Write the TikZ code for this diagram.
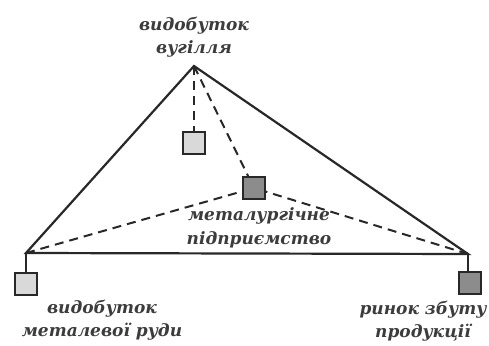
\documentclass[tikz,border=0pt]{standalone}
\usepackage{fontspec}
\setmainfont{DejaVu Serif}
\usetikzlibrary{positioning}
\definecolor{lineGray}{RGB}{40,40,40}
\definecolor{textGray}{RGB}{60,60,60}
\colorlet{PaleBox}{black!15}
\colorlet{DarkBox}{black!45}

\begin{document}
\begin{tikzpicture}[x=1pt,y=-1pt,
      site/.style={draw=lineGray,line width=1.8pt,minimum size=22pt,inner sep=0pt},
      lbl/.style={text=textGray,font=\bfseries\itshape\fontsize{17}{23.5}\selectfont,align=center},
      link/.style={line width=2.2pt,lineGray},
      route/.style={line width=2pt,lineGray,dash pattern=on 9pt off 6pt}
    ]
    \useasboundingbox (0,0) rectangle (489,345);
    % corners of the triangle
    \coordinate (coal) at (194,66);
    \coordinate (ore) at (26,253);
    \coordinate (market) at (468,254);
    % sites
    \node[site,fill=PaleBox] (sq1) at (194,143) {};
    \node[site,fill=DarkBox] (plant) at (254,188) {};
    \node[site,fill=PaleBox] (oreSq) at (26,284) {};
    \node[site,fill=DarkBox] (marketSq) at (470,283) {};
    % labels
    \node[lbl] (coalTxt) at (194,37) {видобуток\\вугілля};
    \node[lbl] (plantTxt) at (259,228) {металургічне\\підприємство};
    \node[lbl] (oreTxt) at (102,320) {видобуток\\металевої руди};
    \node[lbl] (marketTxt) at (423,321) {ринок збуту\\продукції};
    % triangle
    \draw[link,line join=miter] (coal) -- (ore) -- (market) -- cycle;
    \draw[link] (ore) -- (oreSq.north);
    \draw[link] (market) -- (marketSq.north -| market);
    % transport routes
    \draw[route] (coal) -- (sq1.north);
    \draw[route] (coal) -- (plant);
    \draw[route] (ore) -- (plant);
    \draw[route] (market) -- (plant);
  \end{tikzpicture}
\end{document}
